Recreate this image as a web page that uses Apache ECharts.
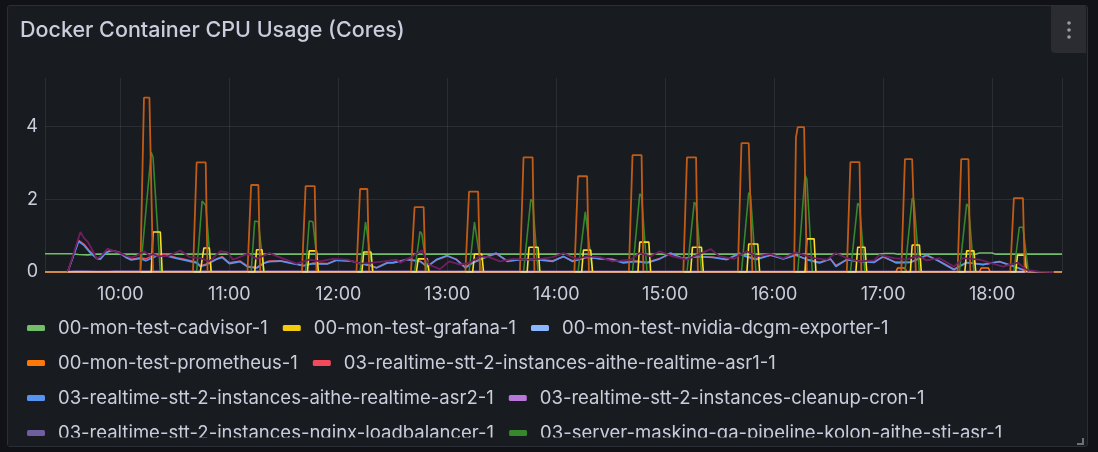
<!DOCTYPE html>
<html>
<head>
<meta charset="utf-8">
<script src="https://cdn.jsdelivr.net/npm/echarts@6/dist/echarts.min.js"></script>
<style>
  html, body { margin: 0; padding: 0; background: #111217; }
  #panel { position: absolute; left: 7px; top: 5px; width: 1079px; height: 440px;
           background: #181b1f; border: 1px solid #2c2e35; border-radius: 3px; }
  #chart { position: absolute; left: 0; top: 0; width: 1098px; height: 452px; }
</style>
</head>
<body>
<div id="panel"></div>
<div id="chart"></div>
<script>
// ---------------- data ----------------
const titleText = 'Docker Container CPU Usage (Cores)';
const timeStart = '9:18:30';
const timeEnd = '18:38:30';
const yTicks = [0, 2, 4];

const legendNames = [
  '00-mon-test-cadvisor-1',
  '00-mon-test-grafana-1',
  '00-mon-test-nvidia-dcgm-exporter-1',
  '00-mon-test-prometheus-1',
  '03-realtime-stt-2-instances-aithe-realtime-asr1-1',
  '03-realtime-stt-2-instances-aithe-realtime-asr2-1',
  '03-realtime-stt-2-instances-cleanup-cron-1',
  '03-realtime-stt-2-instances-nginx-loadbalancer-1',
  '03-server-masking-qa-pipeline-kolon-aithe-sti-asr-1'
];
const legendColors = ['#73BF69','#F2CC0C','#8AB8FF','#FF780A','#F2495C','#5794F2','#B877D9','#705DA0','#37872D'];
// series further down the (clipped) legend
const hiddenNames = ['container-10', 'container-12', 'container-15', 'container-other'];
const hiddenColors = ['#FADE2A', '#C15C17', '#6D1F62', '#F2D6C8'];

const cadvisorData = [['9:18:30',0.50],['9:33',0.50],['9:37',0.48],['9:42',0.47],['9:47',0.49],['13:00',0.49],['16:58',0.49],['17:01',0.51],['17:06',0.51],['17:08',0.49],['17:51',0.49],['17:53',0.52],['18:00',0.52],['18:02',0.49],['18:38:30',0.49]];
const grafanaData = [['9:18:30',0],['18:38:30',0]];
const nvidiaData = [['9:18:30',0],['18:38:30',0]];
const prometheusData = [['9:18:30',0],['17:07',0],['17:08',0.11],['17:12',0.11],['17:13',0],['17:53',0],['17:54',0.11],['17:58',0.11],['17:59',0],['18:38:30',0]];
const asr1Data = [['9:31',0],['9:37',0.87],['9:40',0.76],['9:43',0.58],['9:47',0.38],['9:49',0.36],['9:52',0.54],['9:55',0.60],['9:59',0.55],['10:03',0.42],['10:06',0.35],['10:11',0.39],['10:14',0.36],['10:20',0.50],['10:25',0.47],['10:31',0.39],['10:36',0.34],['10:42',0.27],['10:44',0.17],['10:47',0.21],['10:53',0.36],['10:56',0.42],['11:00',0.25],['11:06',0.30],['11:10',0.16],['11:15',0.12],['11:19',0.25],['11:22',0.30],['11:28',0.31],['11:33',0.26],['11:41',0.18],['11:46',0.24],['11:54',0.23],['11:59',0.33],['12:07',0.31],['12:12',0.24],['12:18',0.18],['12:21',0.12],['12:27',0.26],['12:30',0.26],['12:34',0.30],['12:38',0.35],['12:45',0.30],['12:49',0.16],['12:54',0.33],['13:00',0.44],['13:05',0.35],['13:10',0.13],['13:14',0.26],['13:20',0.39],['13:27',0.50],['13:33',0.31],['13:40',0.35],['13:49',0.35],['13:58',0.31],['14:04',0.42],['14:09',0.31],['14:17',0.40],['14:24',0.37],['14:31',0.35],['14:37',0.27],['14:44',0.30],['14:50',0.27],['14:57',0.37],['15:03',0.50],['15:10',0.37],['15:17',0.42],['15:26',0.41],['15:34',0.35],['15:41',0.50],['15:43',0.46],['15:50',0.36],['15:58',0.46],['16:05',0.37],['16:12',0.46],['16:18',0.35],['16:25',0.27],['16:31',0.36],['16:34',0.18],['16:40',0.34],['16:47',0.30],['16:55',0.28],['17:00',0.41],['17:07',0.27],['17:15',0.27],['17:24',0.45],['17:31',0.30],['17:39',0.08],['17:46',0.26],['17:55',0.21],['18:04',0.28],['18:12',0.16],['18:19',0.03],['18:26',0]];
const asr2Data = [['9:31',0],['9:37',0.84],['9:40',0.73],['9:43',0.55],['9:47',0.37],['9:49',0.35],['9:52',0.53],['9:55',0.59],['9:59',0.54],['10:03',0.40],['10:06',0.33],['10:11',0.37],['10:14',0.31],['10:20',0.44],['10:25',0.45],['10:31',0.37],['10:36',0.32],['10:42',0.25],['10:44',0.15],['10:47',0.19],['10:53',0.35],['10:56',0.40],['11:00',0.23],['11:06',0.28],['11:10',0.14],['11:15',0.11],['11:19',0.24],['11:22',0.28],['11:28',0.30],['11:33',0.25],['11:41',0.17],['11:46',0.23],['11:54',0.22],['11:59',0.32],['12:07',0.30],['12:12',0.23],['12:18',0.17],['12:21',0.11],['12:27',0.25],['12:30',0.25],['12:34',0.29],['12:38',0.34],['12:45',0.29],['12:49',0.14],['12:54',0.34],['13:00',0.45],['13:05',0.34],['13:10',0.11],['13:14',0.25],['13:20',0.38],['13:27',0.52],['13:33',0.29],['13:40',0.34],['13:49',0.34],['13:58',0.29],['14:04',0.43],['14:09',0.29],['14:17',0.41],['14:24',0.36],['14:31',0.34],['14:37',0.25],['14:44',0.29],['14:50',0.25],['14:57',0.36],['15:03',0.52],['15:10',0.36],['15:17',0.43],['15:26',0.40],['15:34',0.34],['15:41',0.52],['15:43',0.45],['15:50',0.34],['15:58',0.47],['16:05',0.36],['16:12',0.47],['16:18',0.34],['16:25',0.25],['16:31',0.36],['16:34',0.15],['16:40',0.34],['16:47',0.29],['16:55',0.26],['17:00',0.43],['17:07',0.25],['17:15',0.26],['17:24',0.47],['17:31',0.29],['17:39',0.06],['17:46',0.26],['17:55',0.20],['18:04',0.29],['18:12',0.15],['18:19',0.02],['18:26',0]];
const cleanupData = [['9:31',0.01],['18:18',0.01]];
const nginxData = [['9:31',0],['9:35',0.02],['9:40',0.02],['9:41',0],['9:52',0],['9:53',0.02],['9:57',0.02],['9:58',0],['18:20',0]];
const stiAsrData = [['9:31',0],
  ['10:11',0],['10:17',3.29],['10:18',3.15],['10:22',0],
  ['10:42',0],['10:45',1.95],['10:47',1.83],['10:50',0],
  ['11:12',0],['11:14',1.40],['11:16',1.38],['11:19',0],
  ['11:42',0],['11:44',1.40],['11:46',1.38],['11:49',0],
  ['12:12',0],['12:15',1.37],['12:16',1.33],['12:19',0],
  ['12:42',0],['12:45',1.11],['12:46',1.05],['12:49',0],
  ['13:12',0],['13:15',1.37],['13:16',1.33],['13:19',0],
  ['13:42',0],['13:46',2.00],['13:47',1.94],['13:50',0],
  ['14:12',0],['14:16',1.65],['14:17',1.60],['14:20',0],
  ['14:42',0],['14:46',2.15],['14:47',2.08],['14:50',0],
  ['15:12',0],['15:16',1.92],['15:17',1.85],['15:20',0],
  ['15:42',0],['15:46',2.18],['15:47',2.10],['15:50',0],
  ['16:13',0],['16:17',2.66],['16:18',2.55],['16:21',0],
  ['16:42',0],['16:46',1.89],['16:47',1.82],['16:50',0],
  ['17:12',0],['17:16',2.03],['17:17',1.95],['17:20',0],
  ['17:42',0],['17:46',1.87],['17:47',1.80],['17:50',0],
  ['18:12',0],['18:15',1.23],['18:17',1.23],['18:20',0]];
const pulseData = [['9:31',0],
  ['10:17',0],['10:18',1.10],['10:22',1.10],['10:23',0],
  ['10:44',0],['10:46',0.66],['10:49',0.66],['10:50',0],
  ['11:14',0],['11:15',0.61],['11:18',0.61],['11:19',0],
  ['11:43',0],['11:44',0.58],['11:48',0.58],['11:49',0],
  ['12:13',0],['12:14',0.55],['12:18',0.55],['12:19',0],
  ['12:43',0],['12:44',0.36],['12:49',0.36],['12:50',0],
  ['13:14',0],['13:15',0.49],['13:19',0.49],['13:20',0],
  ['13:44',0],['13:45',0.68],['13:50',0.68],['13:51',0],
  ['14:14',0],['14:15',0.60],['14:19',0.60],['14:20',0],
  ['14:45',0],['14:46',0.82],['14:51',0.82],['14:52',0],
  ['15:14',0],['15:15',0.68],['15:20',0.68],['15:21',0],
  ['15:45',0],['15:46',0.77],['15:51',0.77],['15:52',0],
  ['16:17',0],['16:18',0.91],['16:22',0.91],['16:23',0],
  ['16:45',0],['16:46',0.68],['16:50',0.68],['16:51',0],
  ['17:15',0],['17:16',0.74],['17:20',0.74],['17:21',0],
  ['17:45',0],['17:46',0.58],['17:50',0.58],['17:51',0],
  ['18:13',0],['18:14',0.46],['18:18',0.46],['18:19',0]];
const spikeData = [['9:31',0],
  ['10:11',0],['10:13',4.79],['10:16',4.79],['10:18',0],
  ['10:40',0],['10:42',3.01],['10:47',3.01],['10:48',0],
  ['11:10',0],['11:12',2.39],['11:16',2.39],['11:17',0],
  ['11:40',0],['11:42',2.36],['11:47',2.36],['11:48',0],
  ['12:10',0],['12:12',2.28],['12:16',2.28],['12:17',0],
  ['12:40',0],['12:42',1.78],['12:47',1.78],['12:48',0],
  ['13:10',0],['13:12',2.21],['13:17',2.21],['13:18',0],
  ['13:40',0],['13:42',3.15],['13:47',3.15],['13:48',0],
  ['14:10',0],['14:12',2.63],['14:17',2.63],['14:18',0],
  ['14:40',0],['14:42',3.21],['14:47',3.21],['14:48',0],
  ['15:10',0],['15:12',3.15],['15:17',3.15],['15:18',0],
  ['15:40',0],['15:42',3.54],['15:46',3.54],['15:48',0],
  ['16:11',0],['16:12',3.70],['16:13',3.98],['16:16:30',3.98],['16:18',0],
  ['16:40',0],['16:42',3.02],['16:47',3.02],['16:48',0],
  ['17:10',0],['17:12',3.10],['17:16',3.10],['17:18',0],
  ['17:41',0],['17:43',3.10],['17:47',3.10],['17:48',0],
  ['18:10',0],['18:12',2.03],['18:17',2.03],['18:18',0]];
const noisyData = [['9:31',0],['9:38',1.10],['9:40',0.93],['9:42',0.83],['9:44',0.66],['9:47',0.36],['9:50',0.47],['9:53',0.64],['9:56',0.58],['9:58',0.55],['10:00',0.52],['10:03',0.45],['10:06',0.40],['10:09',0.45],['10:13',0.57],['10:16',0.45],['10:18',0.50],['10:21',0.42],['10:24',0.45],['10:26',0.43],['10:33',0.59],['10:38',0.41],['10:44',0.38],['10:49',0.29],['10:55',0.57],['10:59',0.54],['11:02',0.34],['11:10',0.50],['11:15',0.36],['11:22',0.52],['11:30',0.36],['11:37',0.23],['11:44',0.34],['11:50',0.29],['11:57',0.36],['12:05',0.34],['12:12',0.23],['12:18',0.25],['12:25',0.29],['12:28',0.31],['12:32',0.34],['12:34',0.25],['12:41',0.43],['12:46',0.59],['12:50',0.20],['12:56',0.08],['13:01',0.29],['13:07',0.20],['13:12',0.25],['13:18',0.43],['13:23',0.41],['13:29',0.29],['13:36',0.36],['13:44',0.34],['13:51',0.36],['13:58',0.41],['14:04',0.52],['14:11',0.36],['14:17',0.43],['14:24',0.41],['14:31',0.29],['14:41',0.34],['14:46',0.52],['14:52',0.43],['14:57',0.57],['15:04',0.43],['15:12',0.34],['15:19',0.50],['15:25',0.63],['15:30',0.43],['15:38',0.36],['15:41',0.47],['15:45',0.57],['15:50',0.43],['15:58',0.50],['16:05',0.38],['16:12',0.54],['16:22',0.38],['16:29',0.34],['16:34',0.52],['16:40',0.38],['16:47',0.29],['16:55',0.32],['16:58',0.47],['17:06',0.38],['17:13',0.34],['17:19',0.45],['17:24',0.32],['17:31',0.38],['17:39',0.15],['17:44',0.38],['17:53',0.34],['17:59',0.25],['18:06',0.15],['18:14',0.26],['18:19',0.06],['18:26',0.01],['18:34',0]];
const baselineData = [['9:31',0],['18:18',0]];

// ---------------- helpers ----------------
function ts(s) {
  const p = s.split(':').map(Number);
  return new Date(2024, 0, 15, p[0], p[1], p[2] || 0).getTime();
}
function pts(arr) { return arr.map(d => [ts(d[0]), d[1]]); }
function pad(n) { return (n < 10 ? '0' : '') + n; }

const visibleData = [cadvisorData, grafanaData, nvidiaData, prometheusData, asr1Data, asr2Data, cleanupData, nginxData, stiAsrData];
const hiddenData = [pulseData, spikeData, noisyData, baselineData];
const hiddenWidths = [1.6, 1.8, 1.8, 1.6];

function lineSeries(name, color, data, width) {
  return {
    name: name, type: 'line', data: pts(data), showSymbol: false, symbol: 'none',
    color: color, lineStyle: { color: color, width: width || 1.5 },
    smooth: false, animation: false, emphasis: { disabled: true }
  };
}

const series = [];
legendNames.forEach((n, i) => series.push(lineSeries(n, legendColors[i], visibleData[i], 1.6)));
hiddenNames.forEach((n, i) => series.push(lineSeries(n, hiddenColors[i], hiddenData[i], hiddenWidths[i])));

const textColor = '#ccccdc';
const font = 'Inter';

const chart = echarts.init(document.getElementById('chart'), null, { renderer: 'canvas' });
chart.setOption({
  backgroundColor: 'transparent',
  animation: false,
  textStyle: { fontFamily: font },
  title: {
    text: titleText, left: 20, top: 20, padding: 0,
    textStyle: { color: textColor, fontSize: 21.5, fontWeight: 500, fontFamily: font }
  },
  grid: { left: 45, right: 36, top: 78, bottom: 180, containLabel: false },
  xAxis: {
    type: 'time',
    min: ts(timeStart), max: ts(timeEnd),
    minInterval: 3600000, maxInterval: 3600000, splitNumber: 9,
    axisLine: { show: false }, axisTick: { show: false },
    axisLabel: {
      color: textColor, fontSize: 18, fontFamily: font, margin: 14,
      formatter: function (v) { const d = new Date(v); return pad(d.getHours()) + ':' + pad(d.getMinutes()); }
    },
    splitLine: { show: true, lineStyle: { color: 'rgba(204,204,220,0.1)', width: 1 } }
  },
  yAxis: {
    type: 'value', min: yTicks[0], max: 5.33, interval: yTicks[1] - yTicks[0],
    axisLine: { show: false }, axisTick: { show: false },
    axisLabel: { color: textColor, fontSize: 18, fontFamily: font, margin: 7, showMaxLabel: false },
    splitLine: { show: true, showMaxLine: false, lineStyle: { color: 'rgba(204,204,220,0.1)', width: 1 } }
  },
  legend: {
    data: legendNames.map((n, i) => ({ name: n, itemStyle: { color: legendColors[i] } })),
    left: 27, top: 318, right: 20, padding: 0,
    icon: 'roundRect', itemWidth: 18, itemHeight: 6, itemGap: 15,
    selectedMode: false,
    textStyle: { color: textColor, fontSize: 18.5, fontFamily: font, lineHeight: 20, padding: [0, 0, 0, 8] }
  },
  graphic: [
    { type: 'rect', z: 100, shape: { x: 8, y: 437.5, width: 1078, height: 8.5 }, style: { fill: '#181b1f' } },
    { type: 'rect', z: 100, shape: { x: 1051, y: 6, width: 35, height: 47, r: [0, 2, 0, 4] }, style: { fill: '#2a2c32' } },
    { type: 'circle', z: 101, shape: { cx: 1069, cy: 23, r: 1.8 }, style: { fill: '#9c9ca6' } },
    { type: 'circle', z: 101, shape: { cx: 1069, cy: 30, r: 1.8 }, style: { fill: '#9c9ca6' } },
    { type: 'circle', z: 101, shape: { cx: 1069, cy: 37, r: 1.8 }, style: { fill: '#9c9ca6' } },
    { type: 'polyline', z: 101, shape: { points: [[1083, 438], [1083, 444], [1077, 444]] }, style: { stroke: '#6e6f78', lineWidth: 2, fill: null } }
  ],
  series: series
});
</script>
</body>
</html>
